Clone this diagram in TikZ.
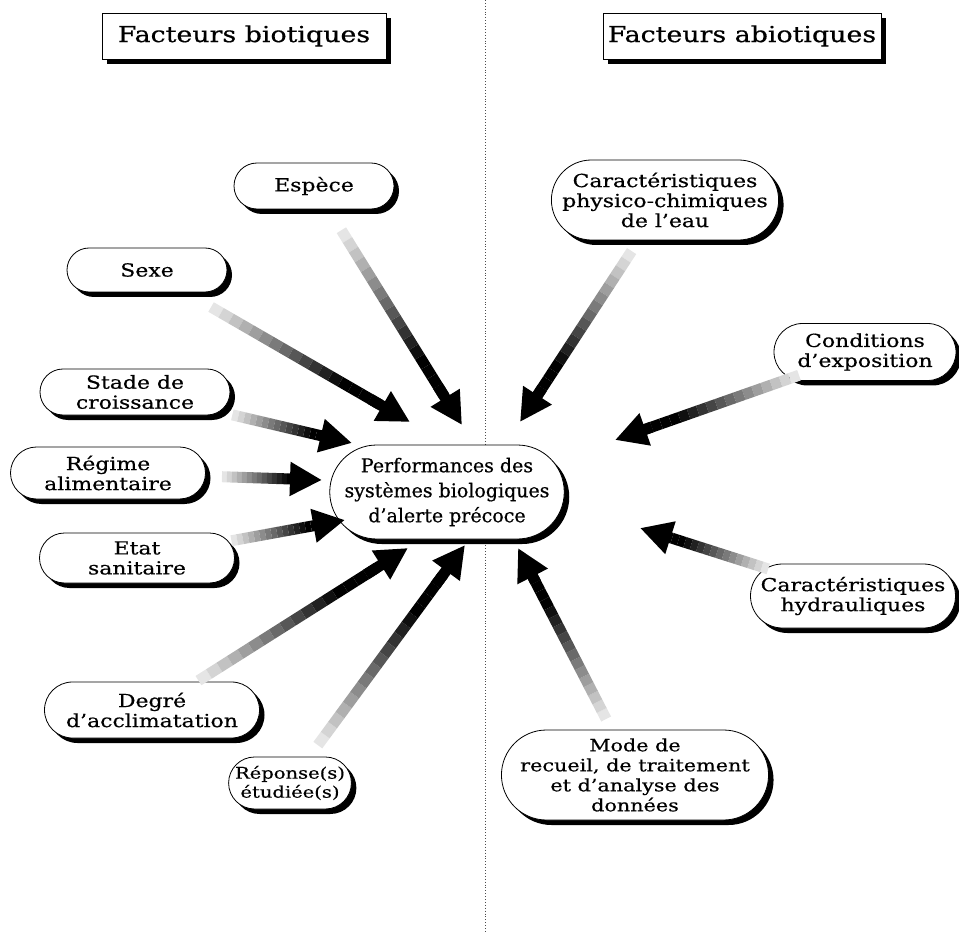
\documentclass[tikz,border=0pt]{standalone}
\usepackage{fontspec}
\setmainfont[FakeStretch=1.22, FakeBold=0.5]{DejaVu Serif}
\newfontfamily\perffont[FakeStretch=1.0, FakeBold=0.6]{DejaVu Serif}
\usetikzlibrary{calc,positioning,shapes.misc,shadows,arrows.meta}

\tikzset{
    facteur/.style={rounded rectangle, draw, fill=white, line width=0.8pt, align=center,
        inner sep=0pt, font=\fontsize{18}{20}\selectfont,
        drop shadow={shadow xshift=5pt, shadow yshift=-5pt, fill=black, opacity=1}},
    titre/.style={rectangle, draw, fill=white, line width=0.8pt, inner sep=4pt,
        font=\fontsize{22}{26}\selectfont,
        drop shadow={shadow xshift=5pt, shadow yshift=-5pt, fill=black, opacity=1}}
}

% fleche degradee : noeud source, pointe, distance au centre du noeud
\newcommand{\fleche}[3]{%
    \coordinate (queue) at ($(#1)!#3!(#2)$);
    \foreach \k in {0,...,16}{
        \pgfmathsetmacro{\fa}{\k*0.05}
        \pgfmathsetmacro{\fb}{(\k+1)*0.05}
        \pgfmathtruncatemacro{\gv}{min(100,10+7*\k)}
        \draw[line width=11pt, black!\gv] ($(queue)!\fa!(#2)$) -- ($(queue)!\fb!(#2)$);
    }
    \draw[-{Triangle[length=32pt,width=32pt]}, line width=11pt] ($(queue)!0.8!(#2)$) -- (#2);
}

\begin{document}
\begin{tikzpicture}[x=1pt, y=-1pt]
    \useasboundingbox (0,0) rectangle (959,933);

    % separation
    \draw[black!70, dotted, line width=0.9pt] (485,0) -- (485,933);

    \node[titre, minimum width=284, minimum height=46] (bio) at (244,36) {Facteurs biotiques};
    \node[titre, minimum width=278, minimum height=46] (abio) at (742,36) {Facteurs abiotiques};

    \node[facteur, font=\perffont\fontsize{19}{25}\selectfont, minimum width=226, minimum height=94] (perf) at (447,492)
        {Performances des\\systèmes biologiques\\d’alerte précoce};

    % facteurs biotiques
    \node[facteur, minimum width=160, minimum height=46] (espece) at (314,186) {Espèce};
    \node[facteur, minimum width=160, minimum height=44] (sexe) at (147,270) {Sexe};
    \node[facteur, minimum width=190, minimum height=46] (stade) at (135,392) {Stade de\\croissance};
    \node[facteur, minimum width=195, minimum height=52] (regime) at (108,473) {Régime\\alimentaire};
    \node[facteur, minimum width=195, minimum height=50] (etat) at (137,558) {Etat\\sanitaire};
    \node[facteur, minimum width=215, minimum height=56] (degre) at (152,710) {Degré\\d’acclimatation};
    \node[facteur, font=\fontsize{16}{19}\selectfont, minimum width=110, minimum height=52] (reponse) at (290,783) {Réponse(s)\\étudiée(s)};

    % facteurs abiotiques
    \node[facteur, minimum width=212, minimum height=80] (physico) at (665,200)
        {Caractéristiques\\physico-chimiques\\de l’eau};
    \node[facteur, minimum width=182, minimum height=57] (expo) at (865,352) {Conditions\\d’exposition};
    \node[facteur, minimum width=205, minimum height=64] (hydrau) at (853,596) {Caractéristiques\\hydrauliques};
    \node[facteur, font=\fontsize{17}{20}\selectfont, minimum width=250, minimum height=90] (mode) at (635,775)
        {Mode de\\recueil, de traitement\\et d’analyse des\\données};

    % pointes des fleches
    \coordinate (pEspece) at ($(perf)+(15,-67)$);
    \coordinate (pSexe) at ($(perf)+(-37,-70)$);
    \coordinate (pStade) at ($(perf)+(-95,-49)$);
    \coordinate (pRegime) at ($(perf)+(-125,-12)$);
    \coordinate (pEtat) at ($(perf)+(-102,28)$);
    \coordinate (pDegre) at ($(perf)+(-39,56)$);
    \coordinate (pReponse) at ($(perf)+(18,53)$);
    \coordinate (pPhysico) at ($(perf)+(73,-70)$);
    \coordinate (pExpo) at ($(perf)+(168,-52)$);
    \coordinate (pHydrau) at ($(perf)+(193,36)$);
    \coordinate (pMode) at ($(perf)+(71,56)$);

    \fleche{espece}{pEspece}{52pt}
    \fleche{sexe}{pSexe}{74pt}
    \fleche{stade}{pStade}{100pt}
    \fleche{regime}{pRegime}{114pt}
    \fleche{etat}{pEtat}{96pt}
    \fleche{degre}{pDegre}{55pt}
    \fleche{reponse}{pReponse}{47pt}
    \fleche{physico}{pPhysico}{61pt}
    \fleche{expo}{pExpo}{70pt}
    \fleche{hydrau}{pHydrau}{89pt}
    \fleche{mode}{pMode}{63pt}
\end{tikzpicture}
\end{document}
